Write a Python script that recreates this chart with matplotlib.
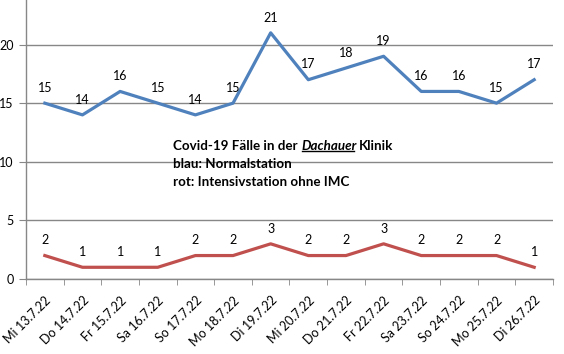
import matplotlib

matplotlib.use("Agg")
import matplotlib.pyplot as plt  # noqa: E402
from matplotlib.lines import Line2D  # noqa: E402

days = ["Mi 13.7.22", "Do 14.7.22", "Fr 15.7.22", "Sa 16.7.22", "So 17.7.22",
        "Mo 18.7.22", "Di 19.7.22", "Mi 20.7.22", "Do 21.7.22", "Fr 22.7.22",
        "Sa 23.7.22", "So 24.7.22", "Mo 25.7.22", "Di 26.7.22"]
normal = [15, 14, 16, 15, 14, 15, 21, 17, 18, 19, 16, 16, 15, 17]
icu = [2, 1, 1, 1, 2, 2, 3, 2, 2, 3, 2, 2, 2, 1]
yticks = [0, 5, 10, 15, 20]

plt.rcParams["font.family"] = ["Lato", "DejaVu Sans"]
GRID = "#878787"

fig = plt.figure(figsize=(5.64, 3.54), dpi=100)
ax = fig.add_axes([26 / 564, 1 - 279 / 354, 527 / 564, 279 / 354])

x = list(range(len(days)))
ax.plot(x, normal, color="#4F81BD", lw=2.3, solid_joinstyle="round")
ax.plot(x, icu, color="#C0504D", lw=2.3, solid_joinstyle="round")
for xi, v in zip(x, normal):
    ax.annotate(str(v), (xi, v), xytext=(0, 11), textcoords="offset points",
                ha="center", va="center", fontsize=9, color="black")
for xi, v in zip(x, icu):
    ax.annotate(str(v), (xi, v), xytext=(0, 11), textcoords="offset points",
                ha="center", va="center", fontsize=9, color="black")

ax.set_xlim(-0.5, len(days) - 0.5)
ax.set_ylim(0, 23.8)
ax.set_yticks(yticks)
ax.set_yticklabels([str(t) for t in yticks], fontsize=9)
ax.set_xticks(x)
ax.set_xticklabels(days, rotation=45, ha="right", rotation_mode="anchor", fontsize=9)
ax.set_xticks([i - 0.5 for i in range(len(days) + 1)], minor=True)
ax.tick_params(axis="x", which="major", length=0, pad=11)
ax.tick_params(axis="x", which="minor", length=4, color=GRID)
ax.tick_params(axis="y", length=5, color=GRID, pad=4)
ax.grid(axis="y", color=GRID, lw=1)
ax.set_axisbelow(True)
for s in ("top", "right"):
    ax.spines[s].set_visible(False)
for s in ("left", "bottom"):
    ax.spines[s].set_color(GRID)
    ax.spines[s].set_linewidth(1)

# annotation block, first line has an underlined italic word
tx, ty = 173 / 564, 1 - 146 / 354
fs = 9.6
t1 = fig.text(tx, ty, "Covid-19 Fälle in der", fontsize=fs, fontweight="bold", va="center")
t2 = ax.annotate("Dachauer", xy=(1, 0), xycoords=t1, xytext=(2.5, 0),
                 textcoords="offset points", fontsize=fs, fontweight="bold",
                 style="italic", va="bottom")
t3 = ax.annotate("Klinik", xy=(1, 0), xycoords=t2, xytext=(1.5, 0),
                 textcoords="offset points", fontsize=fs, fontweight="bold", va="bottom")
fig.text(tx, ty - 18 / 354, "blau: Normalstation", fontsize=fs, fontweight="bold", va="center")
fig.text(tx, ty - 36 / 354, "rot: Intensivstation ohne IMC", fontsize=fs, fontweight="bold", va="center")

fig.canvas.draw()
bb = t2.get_window_extent().transformed(fig.transFigure.inverted())
fig.add_artist(Line2D([bb.x0 + 0.002, bb.x1 - 0.004], [bb.y0 + 0.002, bb.y0 + 0.002],
                      transform=fig.transFigure, color="black", lw=1))

fig.savefig("out.png", dpi=100)
